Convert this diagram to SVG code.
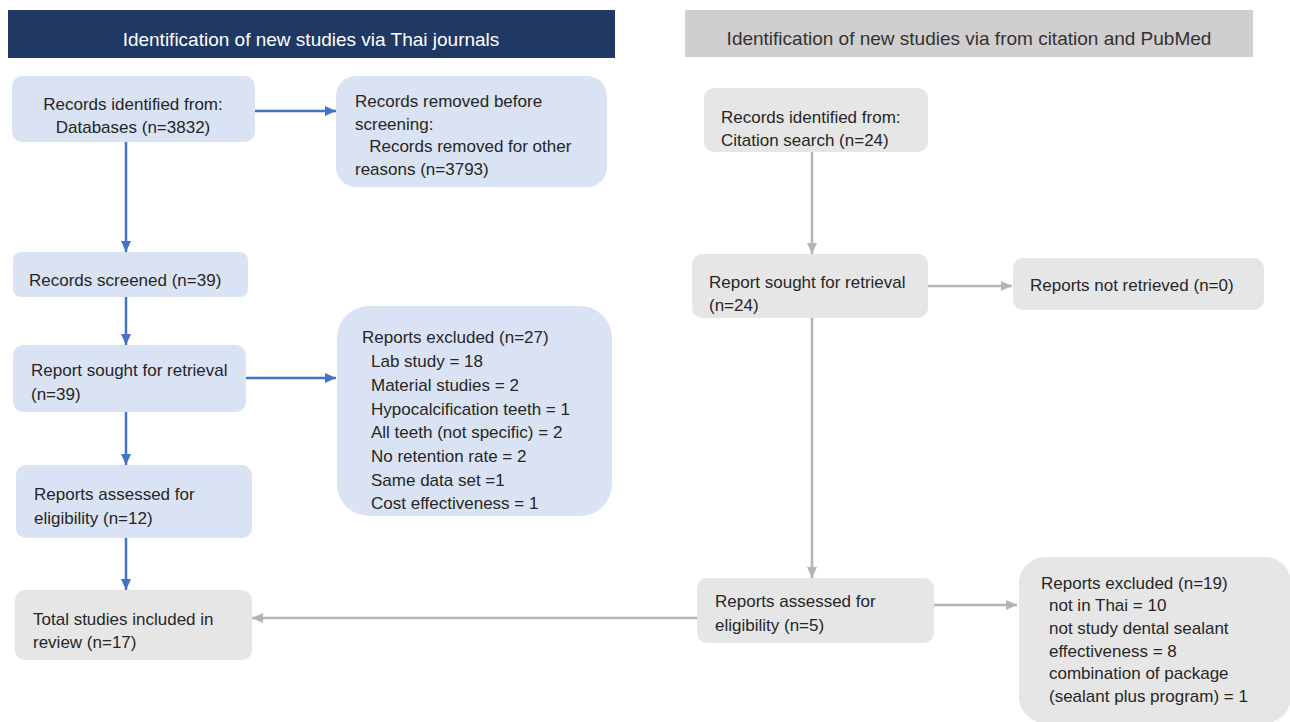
<svg xmlns="http://www.w3.org/2000/svg" width="1290" height="722" viewBox="0 0 1290 722">
<style>
  text { font-family: "Liberation Sans", Arial, sans-serif; font-size: 17px; fill: #262626; }
  .hdr { font-size: 19px; }
  .blue { fill: #DAE3F3; }
  .gray { fill: #E7E6E6; }
  .cb { stroke: #4472C4; stroke-width: 2.5; fill: none; marker-end: url(#ab); }
  .cg { stroke: #B4B4B4; stroke-width: 2.5; fill: none; marker-end: url(#ag); }
</style>
<defs>
  <marker id="ab" markerUnits="userSpaceOnUse" markerWidth="12" markerHeight="12" viewBox="0 0 12 12" refX="11" refY="6" orient="auto">
    <path d="M0,1 L11,6 L0,11 Z" fill="#4472C4"/>
  </marker>
  <marker id="ag" markerUnits="userSpaceOnUse" markerWidth="12" markerHeight="12" viewBox="0 0 12 12" refX="11" refY="6" orient="auto">
    <path d="M0,1 L11,6 L0,11 Z" fill="#B4B4B4"/>
  </marker>
</defs>
<rect width="1290" height="722" fill="#FFFFFF"/>

<g id="header-left">
  <rect x="8" y="10" width="607" height="48" fill="#203864"/>
  <text class="hdr" x="311" y="46" text-anchor="middle" style="fill:#FFFFFF">Identification of new studies via Thai journals</text>
</g>
<g id="header-right">
  <rect x="685" y="10" width="568" height="47" fill="#D0CECE"/>
  <text class="hdr" x="969" y="45" text-anchor="middle" style="fill:#333333">Identification of new studies via from citation and PubMed</text>
</g>

<g id="connectors">
  <line class="cb" x1="255" y1="111" x2="336" y2="111"/>
  <line class="cb" x1="126" y1="142" x2="126" y2="252"/>
  <line class="cb" x1="126" y1="297" x2="126" y2="345"/>
  <line class="cb" x1="246" y1="378" x2="336" y2="378"/>
  <line class="cb" x1="126" y1="412" x2="126" y2="465"/>
  <line class="cb" x1="126" y1="538" x2="126" y2="590"/>
  <line class="cg" x1="812" y1="152" x2="812" y2="254"/>
  <line class="cg" x1="928" y1="286" x2="1012" y2="286"/>
  <line class="cg" x1="812" y1="318" x2="812" y2="578"/>
  <line class="cg" x1="934" y1="605" x2="1017" y2="605"/>
  <line class="cg" x1="698" y1="618" x2="252" y2="618"/>
</g>

<g id="n-records-db">
  <rect class="blue" x="12" y="76" width="243" height="66" rx="10"/>
  <text x="133" y="110" text-anchor="middle">Records identified from:</text>
  <text x="133" y="133" text-anchor="middle">Databases (n=3832)</text>
</g>
<g id="n-removed">
  <rect class="blue" x="336" y="76" width="271" height="111" rx="20"/>
  <text x="355" y="107">Records removed before</text>
  <text x="355" y="130">screening:</text>
  <text x="355" y="152" xml:space="preserve">   Records removed for other</text>
  <text x="355" y="175">reasons (n=3793)</text>
</g>
<g id="n-screened">
  <rect class="blue" x="13" y="252" width="235" height="45" rx="8"/>
  <text x="29" y="286">Records screened (n=39)</text>
</g>
<g id="n-sought-left">
  <rect class="blue" x="13" y="345" width="233" height="67" rx="10"/>
  <text x="31" y="376">Report sought for retrieval</text>
  <text x="31" y="400">(n=39)</text>
</g>
<g id="n-excluded-left">
  <rect class="blue" x="337" y="306" width="275" height="210" rx="32"/>
  <text x="362" y="343">Reports excluded (n=27)</text>
  <text x="371" y="367">Lab study = 18</text>
  <text x="371" y="391">Material studies = 2</text>
  <text x="371" y="415">Hypocalcification teeth = 1</text>
  <text x="371" y="438">All teeth (not specific) = 2</text>
  <text x="371" y="462">No retention rate = 2</text>
  <text x="371" y="486">Same data set =1</text>
  <text x="371" y="509">Cost effectiveness = 1</text>
</g>
<g id="n-assessed-left">
  <rect class="blue" x="16" y="465" width="236" height="73" rx="10"/>
  <text x="34" y="500">Reports assessed for</text>
  <text x="34" y="524">eligibility (n=12)</text>
</g>
<g id="n-total">
  <rect class="gray" x="15" y="590" width="237" height="70" rx="10"/>
  <text x="33" y="625">Total studies included in</text>
  <text x="33" y="648">review (n=17)</text>
</g>

<g id="n-records-citation">
  <rect class="gray" x="704" y="88" width="224" height="64" rx="10"/>
  <text x="721" y="123">Records identified from:</text>
  <text x="721" y="146">Citation search (n=24)</text>
</g>
<g id="n-sought-right">
  <rect class="gray" x="692" y="254" width="236" height="64" rx="10"/>
  <text x="709" y="288">Report sought for retrieval</text>
  <text x="709" y="311">(n=24)</text>
</g>
<g id="n-not-retrieved">
  <rect class="gray" x="1013" y="258" width="251" height="52" rx="10"/>
  <text x="1030" y="291">Reports not retrieved (n=0)</text>
</g>
<g id="n-assessed-right">
  <rect class="gray" x="697" y="578" width="237" height="65" rx="10"/>
  <text x="715" y="607">Reports assessed for</text>
  <text x="715" y="631">eligibility (n=5)</text>
</g>
<g id="n-excluded-right">
  <rect class="gray" x="1019" y="557" width="272" height="166" rx="26"/>
  <text x="1041" y="589">Reports excluded (n=19)</text>
  <text x="1049" y="611">not in Thai = 10</text>
  <text x="1049" y="634">not study dental sealant</text>
  <text x="1049" y="657">effectiveness = 8</text>
  <text x="1049" y="679">combination of package</text>
  <text x="1049" y="702">(sealant plus program) = 1</text>
</g>
</svg>
